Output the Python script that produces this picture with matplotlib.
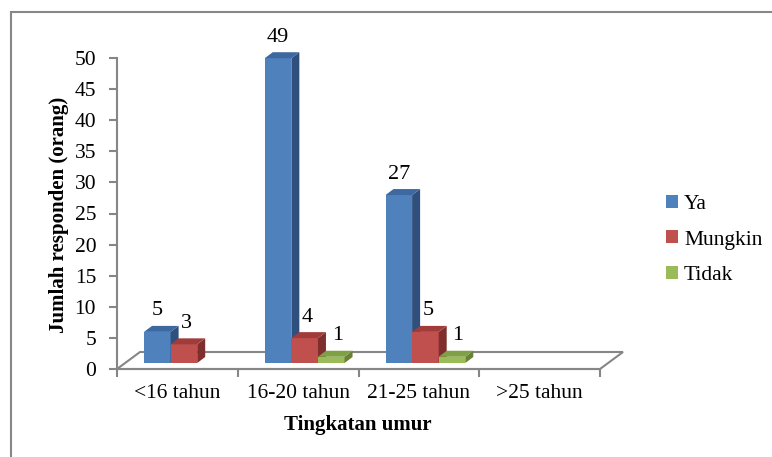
import matplotlib
matplotlib.use("Agg")
import matplotlib.pyplot as plt
from matplotlib.patches import Polygon, Rectangle, Patch

plt.rcParams['font.family'] = ['Liberation Serif', 'DejaVu Serif']

# data
categories = ['<16 tahun', '16-20 tahun', '21-25 tahun', '>25 tahun']
series = ['Ya', 'Mungkin', 'Tidak']
ya = [5, 49, 27, 0]
mungkin = [3, 4, 5, 0]
tidak = [0, 1, 1, 0]
values = [ya, mungkin, tidak]

# front / side / top shades
front = ['#4F81BD', '#C0504D', '#9BBB59']
side = ['#2F4F7C', '#7E2E2C', '#678237']
top = ['#3D68A0', '#A03D3A', '#80A046']

W, H = 772, 457
fig = plt.figure(figsize=(W / 100, H / 100), dpi=100)
ax = fig.add_axes([117 / W, 1 - 369 / H, (600 - 117) / W, (369 - 58) / H])
ax.set_xlim(0, 4)
ax.set_ylim(0, 50)

# pixel -> data units
ux = 4 / (600 - 117)
uy = 50 / (369 - 58)

gray = '#868686'

# floor of the 3d plot
floor = Polygon([(0, 0), (4, 0), (4 + 23 * ux, 17 * uy), (23 * ux, 17 * uy)],
                closed=True, facecolor='white', edgecolor=gray, lw=1.5,
                clip_on=False, zorder=1)
ax.add_patch(floor)

bw = 26.6 * ux
dx, dy = 8 * ux, 6 * uy
base = 6 * uy
for i, vals in enumerate(values):
    for c, v in enumerate(vals):
        if v == 0:
            continue
        x0 = c + 27 * ux + i * bw
        x1 = x0 + bw
        z = 2 + c * 3 + i
        ax.bar(x0, v, width=bw, bottom=base, align='edge', color=front[i],
               lw=0, zorder=z, clip_on=False)
        ax.add_patch(Polygon([(x1, base), (x1 + dx, base + dy),
                              (x1 + dx, base + v + dy), (x1, base + v)],
                             closed=True, facecolor=side[i], lw=0, zorder=z,
                             clip_on=False))
        ax.add_patch(Polygon([(x0, base + v), (x1, base + v),
                              (x1 + dx, base + v + dy), (x0 + dx, base + v + dy)],
                             closed=True, facecolor=top[i], lw=0, zorder=z,
                             clip_on=False))
        ax.text(x0 + bw / 2 + i * 3 * ux, base + v + 21 * uy, str(v),
                ha='center', va='center', fontsize=16, zorder=20)

# axes styling
for s in ['top', 'right']:
    ax.spines[s].set_visible(False)
for s in ['left', 'bottom']:
    ax.spines[s].set_color(gray)
    ax.spines[s].set_linewidth(1.5)
ax.set_yticks(range(0, 51, 5))
ax.tick_params(axis='y', length=6, width=1.5, color=gray, pad=9, labelsize=15.5)
ax.set_xticks(range(0, 5))
ax.set_xticklabels([])
ax.tick_params(axis='x', which='major', length=6, width=1.5, color=gray)
ax.set_xticks([c + 0.5 for c in range(4)], minor=True)
ax.set_xticklabels(categories, minor=True)
ax.tick_params(axis='x', which='minor', length=0, pad=11, labelsize=15.5)
ax.patch.set_alpha(0)

fig.text(59 / W, 1 - 215 / H, 'Jumlah responden (orang)', rotation=90,
         ha='center', va='center', fontsize=15, fontweight='bold')
fig.text(358 / W, 1 - 425 / H, 'Tingkatan umur', ha='center', va='center',
         fontsize=15, fontweight='bold')

handles = [Patch(facecolor=front[i], edgecolor='none') for i in range(3)]
fig.legend(handles, series, loc='center left', bbox_to_anchor=(655 / W, 1 - 240 / H),
           frameon=False, fontsize=15.5, handlelength=0.55, handleheight=0.55,
           handletextpad=0.3, labelspacing=0.78, borderpad=0)

fig.add_artist(Rectangle((11 / W, -0.1), 1.2, 1 - 12 / H + 0.1,
                         transform=fig.transFigure, fill=False,
                         edgecolor='#878787', lw=1.5))

fig.savefig('out.png', dpi=100)
